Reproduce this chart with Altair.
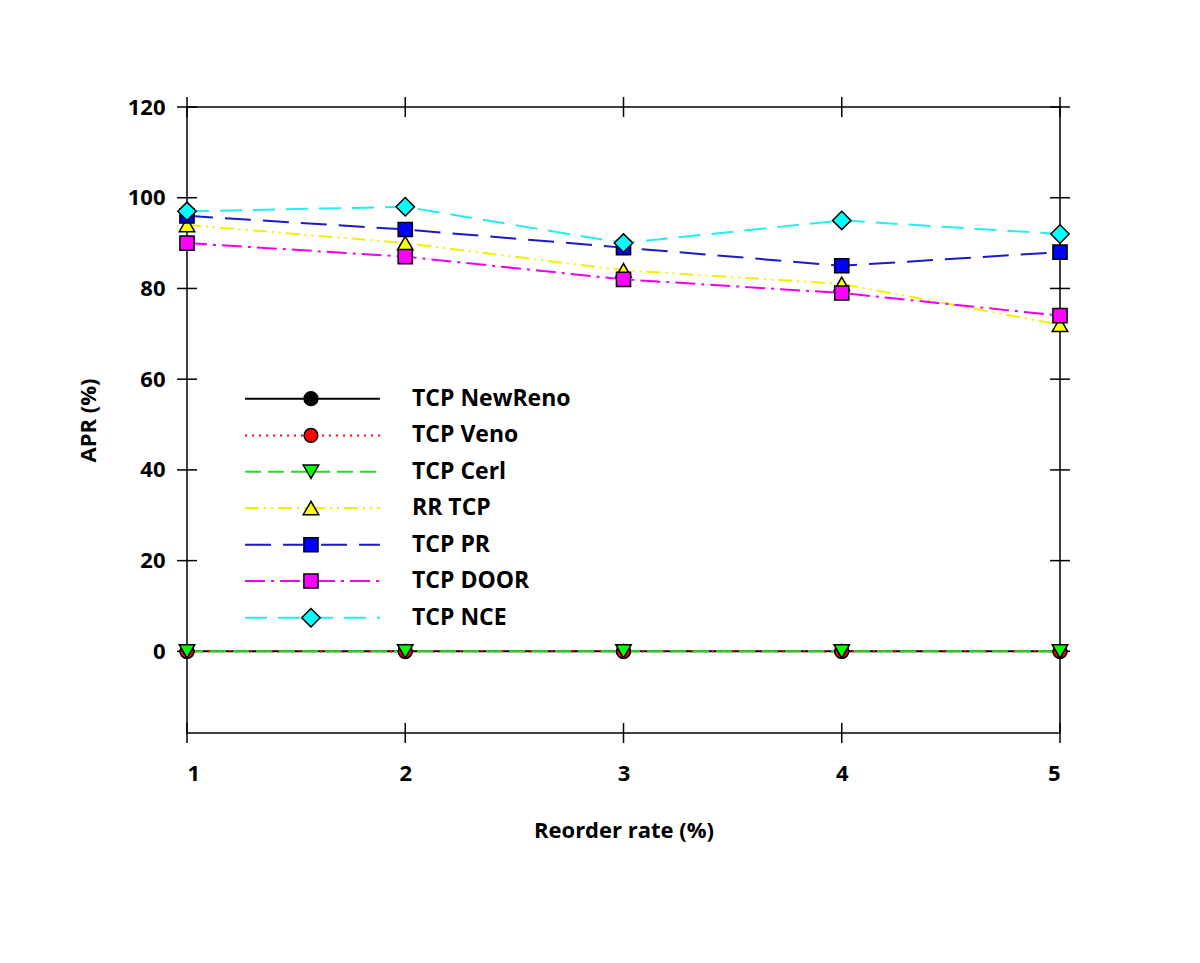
import altair as alt
import pandas as pd

# ---- data ----
SERIES = ["TCP NewReno", "TCP Veno", "TCP Cerl", "RR TCP", "TCP PR", "TCP DOOR", "TCP NCE"]
X = [1, 2, 3, 4, 5]
NEWRENO = [0, 0, 0, 0, 0]
VENO = [0, 0, 0, 0, 0]
CERL = [0, 0, 0, 0, 0]
RRTCP = [94, 90, 84, 81, 72]
PR = [96, 93, 89, 85, 88]
DOOR = [90, 87, 82, 79, 74]
NCE = [97, 98, 90, 95, 92]
VALUES = [NEWRENO, VENO, CERL, RRTCP, PR, DOOR, NCE]

YTICKS = [0, 20, 40, 60, 80, 100, 120]
XTICKS = [1, 2, 3, 4, 5]

# ---- styles ----
LINE_COLORS = ["#000000", "#ff0000", "#22dd22", "#f0f000", "#1a1acc", "#f000f0", "#22eeee"]
FILL_COLORS = ["#000000", "#ff0000", "#00ff00", "#ffff00", "#0000ff", "#ff00ff", "#00ffff"]
SHAPES = ["circle", "circle", "triangle-down", "triangle-up", "square", "square", "diamond"]
SIZES = [190, 190, 240, 240, 200, 200, 340]
DASHES = [[1, 0], [2, 5], [16, 7], [14, 5, 2, 5, 2, 5], [26, 12], [20, 6, 3, 6], [22, 11]]

# legend layout (in data units)
LEG_X0, LEG_X1, LEG_XM, LEG_XT = 1.266, 1.884, 1.568, 2.031
LEG_Y = [55.7, 47.6, 39.6, 31.6, 23.5, 15.5, 7.4]

W, H = 873, 626
FONT = "Open Sans"
FS = 22
FS_LEG = 23

rows = []
for s, vals in zip(SERIES, VALUES):
    for xv, yv in zip(X, vals):
        rows.append({"series": s, "x": xv, "y": yv})
df = pd.DataFrame(rows)

leg_lines = []
leg_pts = []
for s, ly in zip(SERIES, LEG_Y):
    leg_lines.append({"series": s, "x": LEG_X0, "y": ly})
    leg_lines.append({"series": s, "x": LEG_X1, "y": ly})
    leg_pts.append({"series": s, "x": LEG_XM, "y": ly, "tx": LEG_XT})
dleg_l = pd.DataFrame(leg_lines)
dleg_p = pd.DataFrame(leg_pts)

xs = alt.Scale(domain=[1, 5], nice=False, zero=False)
ys = alt.Scale(domain=[-18, 120], nice=False, zero=False)

color = alt.Color("series:N", scale=alt.Scale(domain=SERIES, range=LINE_COLORS), legend=None)
dash = alt.StrokeDash("series:N", scale=alt.Scale(domain=SERIES, range=DASHES), legend=None)

xenc = alt.X("x:Q", scale=xs, axis=alt.Axis(values=XTICKS, title="Reorder rate (%)", format="d",
                                            ticks=False, domain=False, grid=False,
                                            labelPadding=30, titlePadding=36))
yenc = alt.Y("y:Q", scale=ys, axis=alt.Axis(values=YTICKS, title="APR (%)", format="d",
                                            ticks=False, domain=False, grid=False,
                                            labelPadding=22, titlePadding=27))

lines = alt.Chart(df).mark_line(strokeWidth=2, clip=False).encode(
    x=xenc, y=yenc, color=color, strokeDash=dash, detail="series:N")
leg_line = alt.Chart(dleg_l).mark_line(strokeWidth=2).encode(
    x=alt.X("x:Q", scale=xs), y=alt.Y("y:Q", scale=ys), color=color, strokeDash=dash, detail="series:N")

point_layers = []
for s, fc, sh, sz in zip(SERIES, FILL_COLORS, SHAPES, SIZES):
    for src in (df, dleg_p):
        point_layers.append(
            alt.Chart(src).transform_filter(alt.datum.series == s).mark_point(
                filled=True, fill=fc, shape=sh, size=sz, stroke="black", strokeWidth=1.5, opacity=1
            ).encode(x=alt.X("x:Q", scale=xs), y=alt.Y("y:Q", scale=ys))
        )

leg_txt = alt.Chart(dleg_p).mark_text(align="left", baseline="middle", font=FONT, fontSize=FS_LEG,
                                      fontWeight="bold", color="black").encode(
    x=alt.X("tx:Q", scale=xs), y=alt.Y("y:Q", scale=ys), text="series:N")

dyt = pd.DataFrame({"v": YTICKS})
dxt = pd.DataFrame({"v": XTICKS})
tick_style = dict(color="black", strokeWidth=1.5)
yt_left = alt.Chart(dyt).mark_rule(**tick_style).encode(
    y=alt.Y("v:Q", scale=ys), x=alt.value(-10), x2=alt.value(10))
yt_right = alt.Chart(dyt).mark_rule(**tick_style).encode(
    y=alt.Y("v:Q", scale=ys), x=alt.value(W - 10), x2=alt.value(W + 10))
xt_bot = alt.Chart(dxt).mark_rule(**tick_style).encode(
    x=alt.X("v:Q", scale=xs), y=alt.value(H - 10), y2=alt.value(H + 10))
xt_top = alt.Chart(dxt).mark_rule(**tick_style).encode(
    x=alt.X("v:Q", scale=xs), y=alt.value(-10), y2=alt.value(10))

chart = alt.layer(
    yt_left, yt_right, xt_bot, xt_top,
    lines, leg_line, *point_layers, leg_txt
).properties(
    width=W, height=H,
    background="white",
    autosize=alt.AutoSizeParams(type="none"),
    padding={"left": 179, "top": 99, "right": 120, "bottom": 200},
).configure_view(
    stroke="black", strokeWidth=1.5
).configure_axis(
    labelFont=FONT, labelFontSize=FS, labelFontWeight="bold", labelColor="black",
    titleFont=FONT, titleFontSize=FS, titleFontWeight="bold", titleColor="black",
)

chart.save("out.html", embed_options={"renderer": "svg", "actions": False})
